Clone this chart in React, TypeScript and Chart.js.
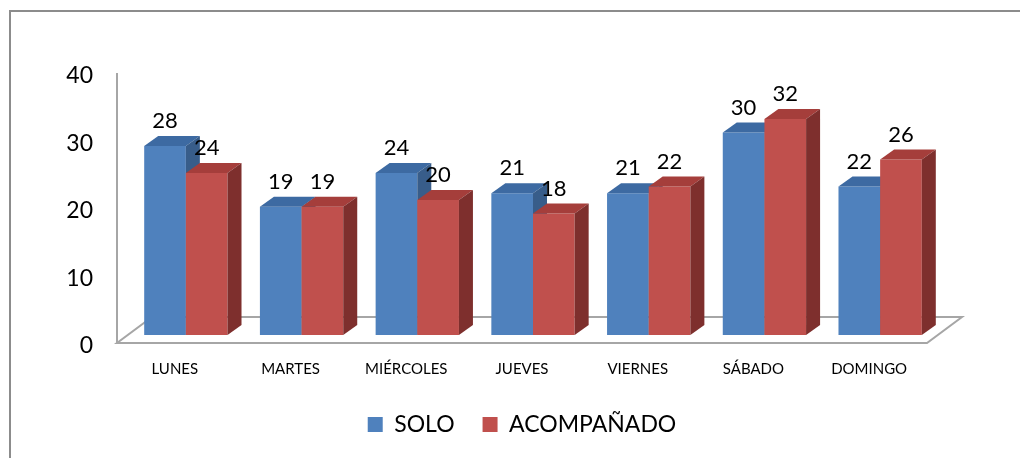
import React, { useEffect, useRef } from "react";
import { Chart, registerables } from "chart.js";

Chart.register(...registerables);

// ---- data ----
const categories = ["LUNES", "MARTES", "MIÉRCOLES", "JUEVES", "VIERNES", "SÁBADO", "DOMINGO"];
const soloValues = [28, 19, 24, 21, 21, 30, 22];
const acompanadoValues = [24, 19, 20, 18, 22, 32, 26];
const seriesNames = ["SOLO", "ACOMPAÑADO"];
const yTicks = [0, 10, 20, 30, 40];

// ---- styles ----
const FONT = "Lato, 'Open Sans', sans-serif";
const frontColors = ["#4F81BD", "#C0504D"];
const topColors = ["#3D6AA2", "#A53E3B"];
const sideColors = ["#385D8A", "#7E2F2D"];
const FRONT_DX = 11;
const FRONT_DY = -8;
const BAR_DX = 14;
const BAR_DY = -10;
const FLOOR_DX = 35;
const FLOOR_DY = -26;

const threeDPlugin = {
  id: "threeD",
  beforeDraw(chart: any) {
    const { ctx, width, height } = chart;
    ctx.save();
    ctx.fillStyle = "#ffffff";
    ctx.fillRect(0, 0, width, height);
    ctx.strokeStyle = "#8C8C8C";
    ctx.lineWidth = 2;
    ctx.beginPath();
    ctx.moveTo(10, height);
    ctx.lineTo(10, 11);
    ctx.lineTo(width, 11);
    ctx.stroke();
    ctx.restore();
  },
  beforeDatasetsDraw(chart: any) {
    const { ctx, chartArea: a } = chart;
    ctx.save();
    // floor
    ctx.strokeStyle = "#A6A6A6";
    ctx.lineWidth = 2;
    ctx.beginPath();
    ctx.moveTo(a.left, a.bottom);
    ctx.lineTo(a.right, a.bottom);
    ctx.lineTo(a.right + FLOOR_DX, a.bottom + FLOOR_DY);
    ctx.lineTo(a.left + FLOOR_DX, a.bottom + FLOOR_DY);
    ctx.closePath();
    ctx.stroke();
    // vertical axis
    ctx.beginPath();
    ctx.moveTo(a.left, a.bottom);
    ctx.lineTo(a.left, a.top);
    ctx.stroke();

    const metas = chart.data.datasets.map((_: any, i: number) => chart.getDatasetMeta(i));
    const n = chart.data.labels.length;
    const labels: { x: number; y: number; t: string }[] = [];
    for (let i = 0; i < n; i++) {
      metas.forEach((meta: any, d: number) => {
        const el = meta.data[i];
        if (!el) return;
        const p = el.getProps(["x", "y", "base", "width"], true);
        const l = p.x - p.width / 2 + FRONT_DX;
        const r = p.x + p.width / 2 + FRONT_DX;
        const t = p.y + FRONT_DY;
        const b = p.base + FRONT_DY;
        // front
        ctx.fillStyle = frontColors[d];
        ctx.fillRect(l, t, r - l, b - t);
        // top
        ctx.fillStyle = topColors[d];
        ctx.beginPath();
        ctx.moveTo(l, t);
        ctx.lineTo(l + BAR_DX, t + BAR_DY);
        ctx.lineTo(r + BAR_DX, t + BAR_DY);
        ctx.lineTo(r, t);
        ctx.closePath();
        ctx.fill();
        // side
        ctx.fillStyle = sideColors[d];
        ctx.beginPath();
        ctx.moveTo(r, t);
        ctx.lineTo(r + BAR_DX, t + BAR_DY);
        ctx.lineTo(r + BAR_DX, b + BAR_DY);
        ctx.lineTo(r, b);
        ctx.closePath();
        ctx.fill();
        const v = chart.data.datasets[d].data[i];
        labels.push({ x: (l + r) / 2, y: t - 25, t: String(v) });
      });
    }
    ctx.fillStyle = "#000";
    ctx.font = `22px ${FONT}`;
    ctx.textAlign = "center";
    ctx.textBaseline = "middle";
    labels.forEach((lb) => ctx.fillText(lb.t, lb.x, lb.y));
    ctx.restore();
    return false;
  },
};

export default function App() {
  const ref = useRef<HTMLCanvasElement | null>(null);
  useEffect(() => {
    if (!ref.current) return;
    const chart = new Chart(ref.current, {
      type: "bar",
      data: {
        labels: categories,
        datasets: [
          {
            label: seriesNames[0],
            data: soloValues,
            backgroundColor: frontColors[0],
            borderWidth: 0,
            categoryPercentage: 0.72,
            barPercentage: 1,
          },
          {
            label: seriesNames[1],
            data: acompanadoValues,
            backgroundColor: frontColors[1],
            borderWidth: 0,
            categoryPercentage: 0.72,
            barPercentage: 1,
          },
        ],
      },
      options: {
        animation: false,
        responsive: false,
        devicePixelRatio: 1,
        layout: { padding: { left: 0, right: 93, top: 73, bottom: 12 } },
        plugins: {
          legend: {
            position: "bottom",
            fullSize: false,
            labels: {
              font: { family: FONT, size: 23 },
              color: "#000",
              boxWidth: 15,
              boxHeight: 15,
              padding: 28,
            },
          },
          tooltip: { enabled: false },
        },
        scales: {
          x: {
            grid: { display: false, drawTicks: false },
            border: { display: false },
            ticks: {
              font: { family: FONT, size: 15 },
              color: "#000",
              padding: 17,
              maxRotation: 0,
              autoSkip: false,
            },
            afterFit: (s: any) => {
              s.height = 42;
            },
          },
          y: {
            min: 0,
            max: 40,
            grid: { display: false, drawTicks: false },
            border: { display: false },
            ticks: {
              font: { family: FONT, size: 23 },
              color: "#000",
              padding: 24,
              labelOffset: 3,
            },
            afterBuildTicks: (s: any) => {
              s.ticks = yTicks.map((v) => ({ value: v }));
            },
            afterFit: (s: any) => {
              s.width = 117;
            },
          },
        },
      } as any,
      plugins: [threeDPlugin],
    });
    let alive = true;
    (document as any).fonts?.ready?.then(() => {
      if (alive) chart.update();
    });
    return () => {
      alive = false;
      chart.destroy();
    };
  }, []);
  return (
    <div style={{ position: "absolute", left: 0, top: 0, width: 1020, height: 458 }}>
      <canvas ref={ref} width={1020} height={458} style={{ display: "block" }} />
    </div>
  );
}
